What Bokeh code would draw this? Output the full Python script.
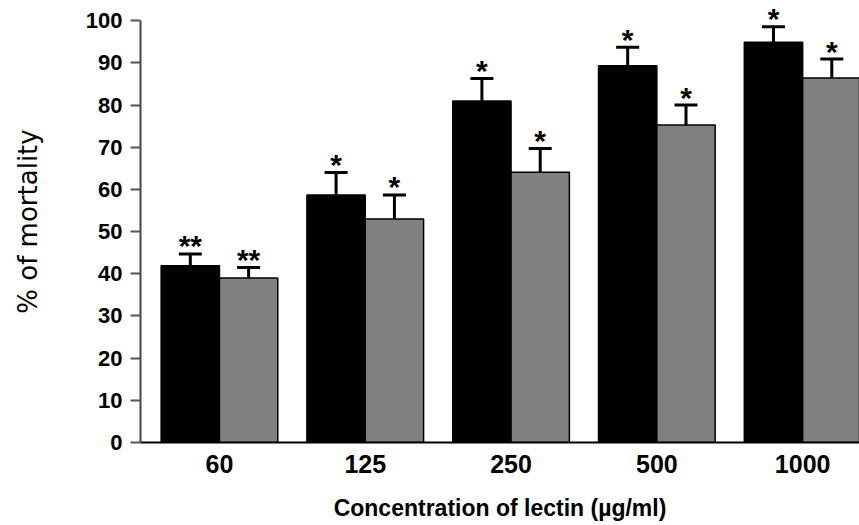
import numpy as np
from bokeh.plotting import figure
from bokeh.models import ColumnDataSource, Whisker, TeeHead, FixedTicker, Range1d
from bokeh.core.properties import value
from bokeh.embed import file_html
from bokeh.resources import INLINE

concentrations = ["60", "125", "250", "500", "1000"]
mortality_black = [41.9, 58.7, 81.0, 89.3, 94.9]
error_black = [2.8, 5.3, 5.3, 4.4, 3.7]
mortality_grey = [39.0, 53.0, 64.1, 75.3, 86.4]
error_grey = [2.5, 5.7, 5.6, 4.7, 4.5]
sig_black = ["**", "*", "*", "*", "*"]
sig_grey = ["**", "*", "*", "*", "*"]
y_ticks = list(range(0, 101, 10))

x = np.arange(len(concentrations))
dodge = 0.2
bar_w = 0.4

src_b = ColumnDataSource(dict(x=x - dodge, top=mortality_black,
                              up=np.array(mortality_black) + np.array(error_black),
                              sig=sig_black))
src_g = ColumnDataSource(dict(x=x + dodge, top=mortality_grey,
                              up=np.array(mortality_grey) + np.array(error_grey),
                              sig=sig_grey))

p = figure(width=859, height=525, x_range=Range1d(-0.5416, 4.39), y_range=Range1d(0, 104.8),
           output_backend="svg", toolbar_location=None,
           min_border_left=140, min_border_right=0, min_border_top=0, min_border_bottom=83)
p.outline_line_color = None
p.xgrid.grid_line_color = None
p.ygrid.grid_line_color = None
p.background_fill_color = "white"
p.border_fill_color = "white"

for src, col in ((src_b, "black"), (src_g, "#808080")):
    p.vbar(x="x", top="top", bottom=0, width=bar_w, source=src,
           fill_color=col, line_color="black", line_width=1.5)
    p.add_layout(Whisker(source=src, base="x", lower="top", upper="up", dimension="height",
                         line_color="black", line_width=3, lower_head=None,
                         upper_head=TeeHead(size=23, line_width=3, line_color="black")))
    p.text(x="x", y="up", text="sig", source=src, text_align="center",
           text_baseline="alphabetic", y_offset=-8, text_font=value("Liberation Sans"),
           text_font_style="bold", text_font_size="30px", text_color="black")

# y axis
yax = p.yaxis[0]
yax.ticker = FixedTicker(ticks=y_ticks)
yax.bounds = (0, 100)
yax.minor_tick_line_color = None
yax.major_tick_out = 10
yax.major_tick_in = 0
yax.major_tick_line_width = 2
yax.major_tick_line_color = "#555555"
yax.axis_line_width = 2
yax.axis_line_color = "#444444"
yax.major_label_text_font = "Liberation Sans"
yax.major_label_text_font_style = "bold"
yax.major_label_text_font_size = "22px"
yax.major_label_text_color = "black"
yax.major_label_standoff = 8
yax.axis_label = "% of mortality"
yax.axis_label_text_font = "DejaVu Sans"
yax.axis_label_text_font_style = "normal"
yax.axis_label_text_font_size = "26px"
yax.axis_label_text_color = "black"
yax.axis_label_standoff = 40

# x axis
xax = p.xaxis[0]
xax.ticker = FixedTicker(ticks=list(x))
xax.major_label_overrides = {int(i): c for i, c in zip(x, concentrations)}
xax.minor_tick_line_color = None
xax.major_tick_line_color = None
xax.major_tick_out = 0
xax.major_tick_in = 0
xax.axis_line_width = 2
xax.axis_line_color = "black"
xax.major_label_text_font = "Liberation Sans"
xax.major_label_text_font_style = "bold"
xax.major_label_text_font_size = "25px"
xax.major_label_text_color = "black"
xax.major_label_standoff = 12
xax.axis_label = "Concentration of lectin (\u00b5g/ml)"
xax.axis_label_text_font = "Liberation Sans"
xax.axis_label_text_font_style = "bold"
xax.axis_label_text_font_size = "23px"
xax.axis_label_text_color = "black"
xax.axis_label_standoff = 19

open("out.html", "w").write(file_html(p, INLINE))
